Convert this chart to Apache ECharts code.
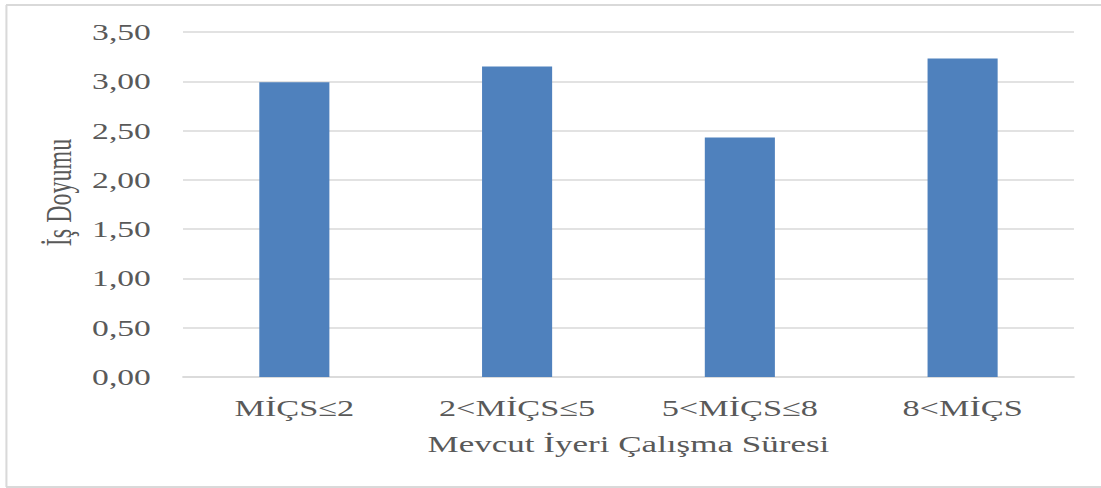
<!DOCTYPE html>
<html>
<head>
<meta charset="utf-8">
<script src="https://cdn.jsdelivr.net/npm/echarts@6/dist/echarts.min.js"></script>
<style>
  html, body { margin: 0; padding: 0; background: #fff; overflow: hidden; }
  /* the figure is laid out narrow and widened horizontally, giving the broad lettering */
  #chart { width: 754px; height: 488px; transform: scaleX(1.4602); transform-origin: 0 0; }
</style>
</head>
<body>
<div id="chart"></div>
<script>
// Job satisfaction by tenure at the current workplace
const categories = ['MİÇS≤2', '2<MİÇS≤5', '5<MİÇS≤8', '8<MİÇS'];
const satisfaction = [2.99, 3.15, 2.43, 3.23];
const yName = 'İş Doyumu';
const xName = 'Mevcut İyeri Çalışma Süresi';

const font = '"Liberation Serif", "Times New Roman", serif';
const textColor = '#595959';
const frameColor = '#d9d9d9';

const chart = echarts.init(document.getElementById('chart'), null, { renderer: 'svg' });
chart.setOption({
  animation: false,
  backgroundColor: '#fff',
  textStyle: { fontFamily: font },
  graphic: [
    { type: 'line', silent: true, shape: { x1: 4.1, y1: 5, x2: 760, y2: 5 }, style: { stroke: frameColor, lineWidth: 2 } },
    { type: 'line', silent: true, shape: { x1: 4.1, y1: 487, x2: 760, y2: 487 }, style: { stroke: frameColor, lineWidth: 2 } },
    { type: 'line', silent: true, shape: { x1: 4.4, y1: 5, x2: 4.4, y2: 487 }, style: { stroke: frameColor, lineWidth: 1.4 } }
  ],
  grid: { left: 125.3, right: 18.5, top: 32, bottom: 111 },
  xAxis: {
    type: 'category',
    data: categories,
    name: xName,
    nameLocation: 'middle',
    nameGap: 55,
    nameTextStyle: { fontFamily: font, fontSize: 24, color: textColor },
    axisLine: { lineStyle: { color: frameColor, width: 1.5 } },
    axisTick: { show: false },
    axisLabel: { fontFamily: font, fontSize: 23.5, color: textColor, margin: 19 }
  },
  yAxis: {
    type: 'value',
    min: 0,
    max: 3.5,
    interval: 0.5,
    name: yName,
    nameLocation: 'middle',
    nameGap: 56,
    nameTextStyle: { fontFamily: font, fontSize: 24, color: textColor, padding: [0, 0, 0, 24] },
    axisLine: { show: false },
    axisTick: { show: false },
    axisLabel: {
      fontFamily: font, fontSize: 23, color: textColor, margin: 22,
      formatter: v => v.toFixed(2).replace('.', ',')
    },
    splitLine: { lineStyle: { color: frameColor, width: 1.5 } }
  },
  series: [{
    type: 'bar',
    data: satisfaction,
    barWidth: 48,
    itemStyle: { color: '#4f81bd' }
  }]
});
</script>
</body>
</html>
